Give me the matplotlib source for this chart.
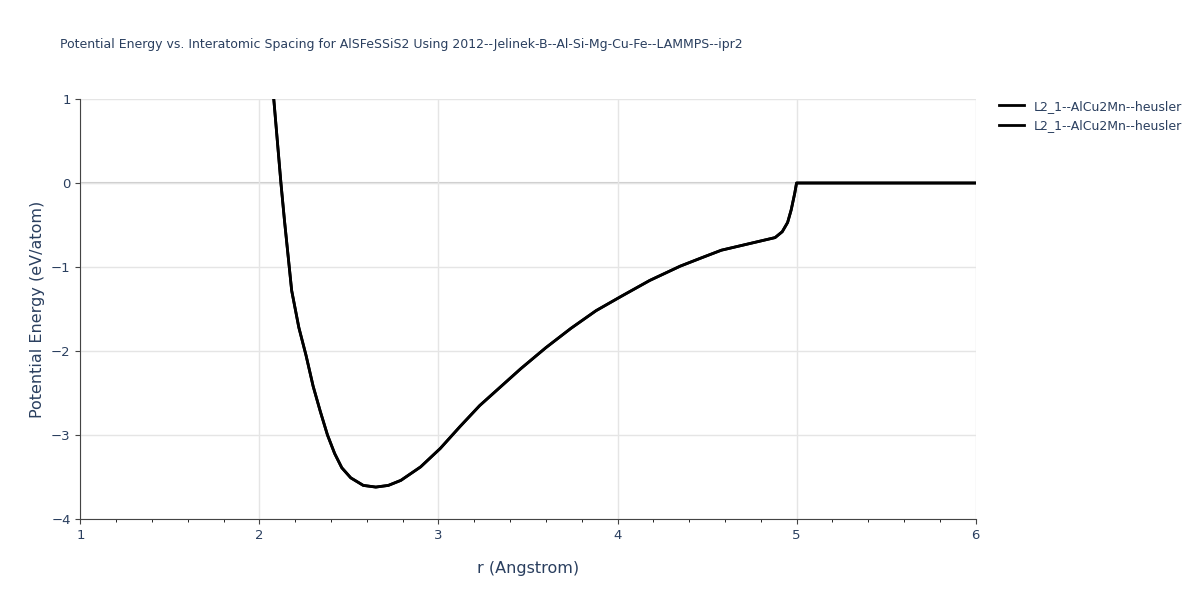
import matplotlib
matplotlib.use("Agg")
import matplotlib.pyplot as plt

# values
r = [2.08, 2.12, 2.14, 2.18, 2.22, 2.26, 2.30, 2.34, 2.38, 2.42, 2.46, 2.51, 2.58,
     2.65, 2.72, 2.79, 2.90, 3.01, 3.12, 3.23, 3.46, 3.60, 3.74, 3.88, 4.02, 4.18,
     4.35, 4.47, 4.58, 4.80, 4.88, 4.92, 4.95, 4.97, 4.99, 5.00, 5.5, 6.0]
energy = [1.0, 0.0, -0.45, -1.28, -1.72, -2.05, -2.42, -2.72, -3.0, -3.22, -3.39,
          -3.51, -3.6, -3.62, -3.6, -3.54, -3.38, -3.16, -2.9, -2.65, -2.21, -1.96,
          -1.73, -1.52, -1.35, -1.16, -0.99, -0.89, -0.8, -0.69, -0.65, -0.58, -0.47,
          -0.32, -0.12, 0.0, 0.0, 0.0]
labels = ["L2_1--AlCu2Mn--heusler", "L2_1--AlCu2Mn--heusler"]

fig = plt.figure(figsize=(12, 6), dpi=100)
ax = fig.add_axes([0.067, 0.135, 0.746, 0.70])

for label in labels:
    ax.plot(r, energy, color="black", linewidth=2, label=label)

ax.set_xlim(1, 6)
ax.set_ylim(-4, 1)
ax.axhline(0, color="#cccccc", linewidth=1.5, zorder=0)
ax.grid(True, color="#e5e5e5", linewidth=1)
ax.set_axisbelow(True)
for side in ["top", "right"]:
    ax.spines[side].set_visible(False)
for side in ["left", "bottom"]:
    ax.spines[side].set_color("#444444")
ax.set_xticks([1, 2, 3, 4, 5, 6])
ax.set_xticks([1.2, 1.4, 1.6, 1.8, 2.2, 2.4, 2.6, 2.8, 3.2, 3.4, 3.6, 3.8,
               4.2, 4.4, 4.6, 4.8, 5.2, 5.4, 5.6, 5.8], minor=True)
ax.set_yticks([-4, -3, -2, -1, 0, 1])
ax.set_yticklabels(["−4", "−3", "−2", "−1", "0", "1"])
ax.tick_params(colors="#444444", labelcolor="#2a3f5f", labelsize=9.5)
ax.set_xlabel("r (Angstrom)", color="#2a3f5f", fontsize=11.5, labelpad=14)
ax.set_ylabel("Potential Energy (eV/atom)", color="#2a3f5f", fontsize=11.5)

fig.text(0.05, 0.92, "Potential Energy vs. Interatomic Spacing for AlSFeSSiS2 Using "
         "2012--Jelinek-B--Al-Si-Mg-Cu-Fe--LAMMPS--ipr2", color="#2a3f5f", fontsize=9)
ax.legend(loc="upper left", bbox_to_anchor=(1.02, 1.01), frameon=False,
          labelcolor="#2a3f5f", fontsize=9, handlelength=2.0, borderaxespad=0)

fig.savefig("out.png", dpi=100)
